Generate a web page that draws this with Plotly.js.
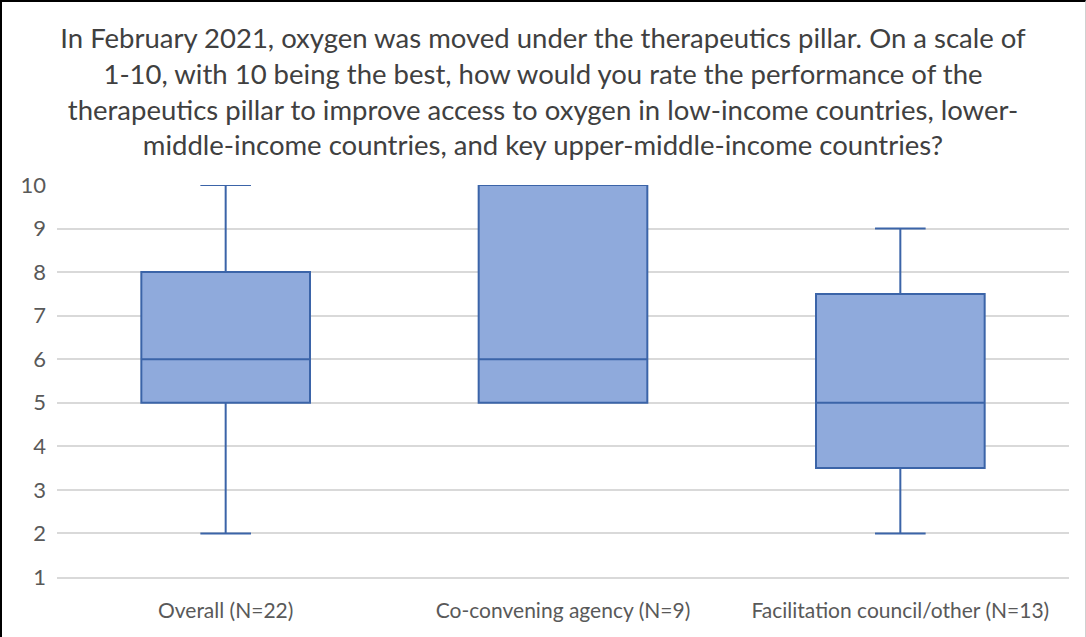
<!DOCTYPE html>
<html>
<head>
<meta charset="utf-8">
<script src="https://cdn.plot.ly/plotly-3.0.1.min.js"></script>
<style>
html,body{margin:0;padding:0;background:#fff;}
#wrap{position:relative;width:1086px;height:637px;}
#chart{width:1086px;height:637px;}
#frame{position:absolute;left:0;top:0;width:1086px;height:637px;border-top:2px solid #000;border-left:2px solid #000;border-right:1px solid #d0d0d0;box-sizing:border-box;pointer-events:none;}
</style>
</head>
<body>
<div id="wrap"><div id="chart"></div><div id="frame"></div></div>
<script>
const categories = ["Overall (N=22)", "Co-convening agency (N=9)", "Facilitation council/other (N=13)"];
const lowerWhisker = [2, 5, 2];
const q1Values = [5, 5, 3.5];
const medianValues = [6, 6, 5];
const q3Values = [8, 10, 7.5];
const upperWhisker = [10, 10, 9];
const yTicks = [1, 2, 3, 4, 5, 6, 7, 8, 9, 10];
const titleText = "In February 2021, oxygen was moved under the therapeutics pillar. On a scale of<br>1-10, with 10 being the best, how would you rate the performance of the<br>therapeutics pillar to improve access to oxygen in low-income countries, lower-<br>middle-income countries, and key upper-middle-income countries?";

const trace = {
  type: "box",
  x: categories,
  q1: q1Values,
  median: medianValues,
  q3: q3Values,
  lowerfence: lowerWhisker,
  upperfence: upperWhisker,
  fillcolor: "#8FAADC",
  line: {color: "#3B64A8", width: 2},
  whiskerwidth: 0.3,
  width: 0.5,
  boxpoints: false,
  hoverinfo: "skip",
  showlegend: false
};

const layout = {
  width: 1086,
  height: 637,
  margin: {l: 57, r: 17, t: 185, b: 60},
  paper_bgcolor: "#fff",
  plot_bgcolor: "#fff",
  font: {family: "Lato, 'Open Sans', sans-serif", color: "#595959"},
  title: {
    text: titleText,
    font: {size: 27.5, color: "#404040", family: "Lato, sans-serif"},
    x: 0.5, xanchor: "center",
    y: 1 - 48/637, yanchor: "top", yref: "container"
  },
  xaxis: {
    type: "category",
    range: [-0.5, 2.5],
    showgrid: false,
    showline: true,
    linecolor: "#D9D9D9",
    linewidth: 2,
    ticks: "",
    ticklabelstandoff: 14,
    tickfont: {size: 21, color: "#595959"},
    fixedrange: true
  },
  yaxis: {
    range: [1, 10],
    tickvals: yTicks,
    ticktext: yTicks.map(String),
    showgrid: true,
    gridcolor: "#D9D9D9",
    gridwidth: 2,
    zeroline: false,
    showline: false,
    ticks: "",
    ticklabelstandoff: 10,
    tickfont: {size: 22, color: "#595959"},
    fixedrange: true
  }
};

Plotly.newPlot("chart", [trace], layout, {displayModeBar: false, staticPlot: true});
</script>
</body>
</html>
